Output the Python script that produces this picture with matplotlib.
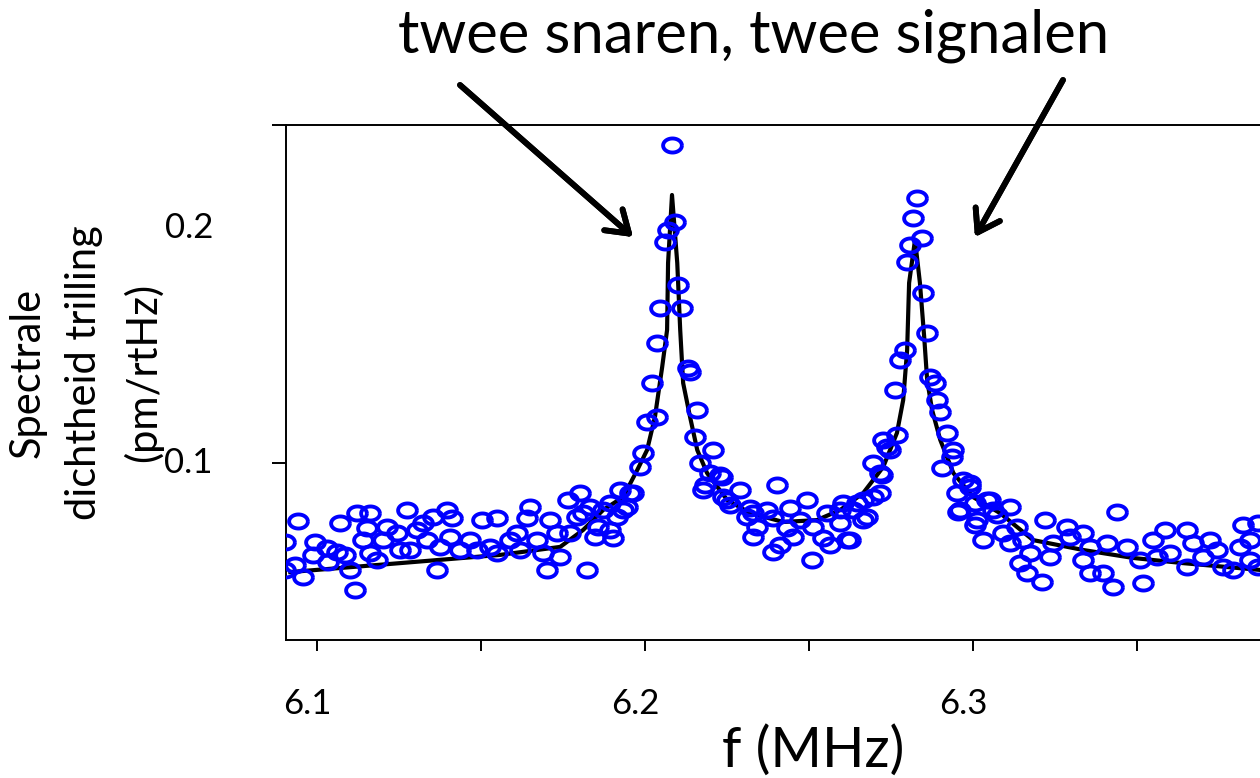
import numpy as np
import matplotlib.pyplot as plt
import matplotlib.transforms as mtransforms
from matplotlib.path import Path

plt.rcParams['font.family'] = ['Lato', 'DejaVu Sans']

# measured spectrum (MHz, pm/rtHz)
f_meas = [
    6.0902, 6.0902, 6.0942, 6.0957, 6.0933, 6.0994, 6.0988, 6.1030, 6.1034, 6.1061,
    6.1070, 6.1085, 6.1101, 6.1116, 6.1122, 6.1162, 6.1152, 6.1140, 6.1162, 6.1183,
    6.1213, 6.1201, 6.1244, 6.1253, 6.1274, 6.1284, 6.1305, 6.1323, 6.1335, 6.1354,
    6.1366, 6.1375, 6.1396, 6.1412, 6.1406, 6.1436, 6.1466, 6.1488, 6.1503, 6.1527,
    6.1549, 6.1549, 6.1588, 6.1610, 6.1619, 6.1640, 6.1649, 6.1671, 6.1689, 6.1701,
    6.1710, 6.1732, 6.1741, 6.1765, 6.1802, 6.1793, 6.1771, 6.1823, 6.1811, 6.1832,
    6.1848, 6.1872, 6.1893, 6.1902, 6.1915, 6.1924, 6.1945, 6.1954, 6.1985, 6.1994,
    6.2006, 6.2037, 6.1857,
    # first peak
    6.2082, 6.2092, 6.2070, 6.2061, 6.2101, 6.2046, 6.2113, 6.2037, 6.2021, 6.2131,
    6.2137, 6.2159, 6.2152, 6.2207, 6.2168, 6.1963, 6.1893, 6.1933, 6.2198, 6.2235,
    6.2177, 6.2290, 6.2250,
    # valley
    6.2229, 6.2183, 6.2402, 6.2238, 6.2259, 6.2320, 6.2372, 6.2442, 6.2494, 6.2311,
    6.2390, 6.2473, 6.2555, 6.2595, 6.2646, 6.2695, 6.2716, 6.2341, 6.2433, 6.2512,
    6.2595, 6.2677, 6.2329, 6.2451, 6.2543, 6.2616, 6.2412, 6.2564, 6.2390, 6.2509,
    6.2695, 6.2716, 6.2738, 6.2768, 6.2726, 6.2329, 6.2604, 6.2665, 6.2747,
    # second peak
    6.2830, 6.2817, 6.2845, 6.2808, 6.2799, 6.2848, 6.2860, 6.2762, 6.2777, 6.2793,
    6.2869, 6.2884, 6.2890, 6.2900, 6.2921, 6.2940, 6.2937, 6.2906, 6.2970, 6.2952,
    6.2991, 6.3043, 6.2961, 6.3013, 6.3062, 6.3031,
    # right side
    6.2723, 6.2634, 6.2665, 6.2625, 6.2991, 6.2955, 6.3006, 6.3052, 6.3006, 6.3073,
    6.3113, 6.3092, 6.3134, 6.3113, 6.3152, 6.3143, 6.3165, 6.3210, 6.3174, 6.3220,
    6.3244, 6.3235, 6.3287, 6.3296, 6.3335, 6.3357, 6.3335, 6.3357, 6.3396, 6.3427,
    6.3409, 6.3439, 6.3470, 6.3509, 6.3518, 6.3549, 6.3561, 6.3585, 6.3601, 6.3653,
    6.3671, 6.3653, 6.3723, 6.3701, 6.3744, 6.3763, 6.3793, 6.3814, 6.3823, 6.3845,
    6.3845, 6.3869, 6.3869,
]
a_meas = [
    0.0664, 0.0545, 0.0753, 0.0515, 0.0566, 0.0664, 0.0609, 0.0638, 0.0579, 0.0621,
    0.0745, 0.0609, 0.0545, 0.0460, 0.0787, 0.0787, 0.0723, 0.0672, 0.0617, 0.0587,
    0.0728, 0.0672, 0.0702, 0.0630, 0.0800, 0.0630, 0.0715, 0.0745, 0.0672, 0.0770,
    0.0545, 0.0643, 0.0800, 0.0766, 0.0685, 0.0630, 0.0672, 0.0630, 0.0757, 0.0643,
    0.0766, 0.0617, 0.0672, 0.0702, 0.0630, 0.0766, 0.0813, 0.0672, 0.0617, 0.0545,
    0.0757, 0.0702, 0.0600, 0.0843, 0.0872, 0.0770, 0.0702, 0.0545, 0.0787, 0.0813,
    0.0685, 0.0800, 0.0715, 0.0681, 0.0770, 0.0885, 0.0813, 0.0872, 0.0983, 0.1043,
    0.1174, 0.1196, 0.0728,
    0.2353, 0.2025, 0.1991, 0.1940, 0.1757, 0.1660, 0.1660, 0.1511, 0.1340, 0.1404,
    0.1387, 0.1226, 0.1111, 0.1055, 0.1000, 0.0872, 0.0830, 0.0800, 0.0957, 0.0940,
    0.0885, 0.0885, 0.0843,
    0.0949, 0.0906, 0.0906, 0.0855, 0.0821, 0.0809, 0.0800, 0.0809, 0.0843, 0.0770,
    0.0766, 0.0757, 0.0787, 0.0800, 0.0830, 0.0855, 0.0872, 0.0728, 0.0723, 0.0728,
    0.0745, 0.0770, 0.0685, 0.0685, 0.0681, 0.0672, 0.0651, 0.0651, 0.0621, 0.0587,
    0.1000, 0.0957, 0.1068, 0.1119, 0.1098, 0.0787, 0.0830, 0.0843, 0.1055,
    0.2128, 0.2042, 0.1957, 0.1928, 0.1855, 0.1723, 0.1553, 0.1311, 0.1438, 0.1481,
    0.1366, 0.1340, 0.1268, 0.1217, 0.1128, 0.1055, 0.1026, 0.0979, 0.0928, 0.0872,
    0.0898, 0.0843, 0.0800, 0.0757, 0.0800, 0.0672,
    0.0949, 0.0800, 0.0757, 0.0672, 0.0915, 0.0791, 0.0830, 0.0843, 0.0736, 0.0779,
    0.0813, 0.0702, 0.0728, 0.0660, 0.0672, 0.0574, 0.0532, 0.0494, 0.0617, 0.0757,
    0.0660, 0.0600, 0.0728, 0.0685, 0.0702, 0.0643, 0.0587, 0.0532, 0.0532, 0.0472,
    0.0660, 0.0791, 0.0643, 0.0587, 0.0489, 0.0672, 0.0600, 0.0715, 0.0617, 0.0715,
    0.0660, 0.0557, 0.0672, 0.0600, 0.0630, 0.0557, 0.0545, 0.0643, 0.0736, 0.0587,
    0.0672, 0.0745, 0.0557,
]

# fitted curve
f_fit = [6.0918, 6.1253, 6.1558, 6.1741, 6.1811, 6.1872, 6.1933, 6.1976, 6.2006, 6.2030,
         6.2052, 6.2067, 6.2070, 6.2082, 6.2098, 6.2107, 6.2116, 6.2137, 6.2159, 6.2189,
         6.2250, 6.2320, 6.2421, 6.2524, 6.2595, 6.2665, 6.2726, 6.2768, 6.2787, 6.2799,
         6.2805, 6.2823, 6.2838, 6.2851, 6.2860, 6.2875, 6.2900, 6.2940, 6.3000, 6.3082,
         6.3183, 6.3335, 6.3488, 6.3640, 6.3875]
a_fit = [0.0536, 0.0574, 0.0609, 0.0643, 0.0715, 0.0800, 0.0855, 0.0970, 0.1055, 0.1196,
         0.1408, 0.1566, 0.1851, 0.2140, 0.1851, 0.1566, 0.1340, 0.1196, 0.1055, 0.0957,
         0.0843, 0.0787, 0.0749, 0.0757, 0.0800, 0.0872, 0.0983, 0.1128, 0.1268, 0.1481,
         0.1766, 0.1949, 0.1766, 0.1536, 0.1353, 0.1226, 0.1098, 0.0957, 0.0855, 0.0787,
         0.0672, 0.0630, 0.0596, 0.0574, 0.0545]

x_major = [6.1, 6.2, 6.3]
x_minor = [6.15, 6.25, 6.35]
x_labels = ['6.1', '6.2', '6.3']
y_labels = ['0.2', '0.1']
y_label_pos = [0.2, 0.1]

fig = plt.figure(figsize=(12.6, 7.78), dpi=100)
ax = fig.add_axes([0.227, 0.1774, 0.773, 0.662])

ax.plot(f_fit, a_fit, color='black', lw=3.0, zorder=2)

t = np.linspace(0, 2 * np.pi, 60)
ell = Path(np.column_stack([np.cos(t), 0.75 * np.sin(t)]))
ax.plot(f_meas, a_meas, linestyle='none', marker=ell, markersize=13.5,
        markerfacecolor='none', markeredgecolor='#0000ff', markeredgewidth=2.8, zorder=3)

ax.set_xlim(6.0905, 6.3875)
ytop = 0.2438
ax.set_ylim(0.0247, ytop)

ax.spines['right'].set_visible(False)
for s in ['left', 'bottom', 'top']:
    ax.spines[s].set_linewidth(1.4)

ax.set_xticks(x_major + x_minor)
ax.set_xticklabels([''] * 6)
ax.tick_params(axis='x', direction='out', length=8, width=1.4)
shift = mtransforms.ScaledTranslation(-10 / 100, 0, fig.dpi_scale_trans)
for lab, v in zip(x_labels, x_major):
    ax.text(v, -0.1437, lab, transform=ax.get_xaxis_transform() + shift,
            ha='center', va='baseline', fontsize=25)

ax.set_yticks([0.1, ytop])
ax.set_yticklabels(['', ''])
ax.tick_params(axis='y', direction='out', length=10, width=1.4)
for lab, v in zip(y_labels, y_label_pos):
    ax.text(-0.075, v, lab, transform=ax.get_yaxis_transform(), ha='right', va='center',
            fontsize=25)

fig.text(0.068, 0.521, 'Spectrale\ndichtheid trilling\n(pm/rtHz)', rotation=90,
         ha='center', va='center', fontsize=30, linespacing=1.6, multialignment='center')
fig.text(0.645, 0.014, 'f (MHz)', ha='center', va='baseline', fontsize=40)
fig.text(0.598, 0.933, 'twee snaren, twee signalen', ha='center', va='baseline', fontsize=43)

arrow = dict(arrowstyle='->, head_length=0.75, head_width=0.5', lw=4.2, color='black',
             shrinkA=0, shrinkB=0, mutation_scale=20)
fig.add_artist(plt.annotate('', xy=(633, 541), xytext=(460, 693), xycoords='figure pixels',
                            textcoords='figure pixels', arrowprops=arrow))
fig.add_artist(plt.annotate('', xy=(975, 541), xytext=(1063, 698), xycoords='figure pixels',
                            textcoords='figure pixels', arrowprops=arrow))

fig.savefig('out.png', dpi=100)
